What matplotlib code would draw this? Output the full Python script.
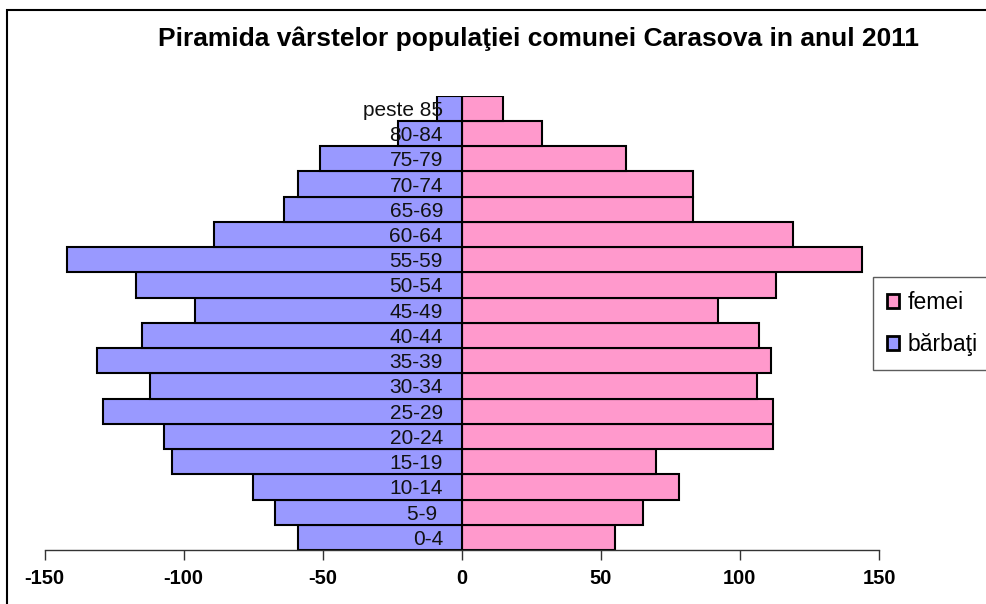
import matplotlib.pyplot as plt
from matplotlib.patches import Rectangle

plt.rcParams['font.family'] = ['Liberation Sans', 'DejaVu Sans']

# date
grupe = ["0-4", "5-9 ", "10-14", "15-19", "20-24", "25-29", "30-34", "35-39",
         "40-44", "45-49", "50-54", "55-59", "60-64", "65-69", "70-74",
         "75-79", "80-84", "peste 85"]
barbati = [59, 67, 75, 104, 107, 129, 112, 131, 115, 96, 117, 142, 89, 64, 59, 51, 23, 9]
femei = [55, 65, 78, 70, 112, 112, 106, 111, 107, 92, 113, 144, 119, 83, 83, 59, 29, 15]
x_ticks = [-150, -100, -50, 0, 50, 100, 150]

culoare_b = '#9999FF'
culoare_f = '#FF99CC'

fig = plt.figure(figsize=(9.86, 6.04), dpi=100)
ax = fig.add_axes([44.5 / 986, 1 - 550 / 604, (879 - 44.5) / 986, (550 - 95.7) / 604])

poz = list(range(len(grupe)))
ax.barh(poz, femei, height=1.0, color=culoare_f, edgecolor='black', linewidth=1.5, label='femei')
ax.barh(poz, [-v for v in barbati], height=1.0, color=culoare_b, edgecolor='black',
        linewidth=1.5, label='bărbaţi')

ax.set_xlim(-150, 150)
ax.set_ylim(-0.5, len(grupe) - 0.5)
ax.set_xticks(x_ticks)
ax.set_xticklabels([str(t) for t in x_ticks], fontsize=14.5, fontweight='bold')
ax.tick_params(axis='x', length=7, width=1, color='#333333', pad=7)

# etichetele grupelor langa axa 0
ax.spines['left'].set_position(('data', 0))
ax.spines['left'].set_visible(False)
ax.set_yticks(poz)
ax.set_yticklabels(grupe, fontsize=15, color='#111111')
ax.tick_params(axis='y', length=0, pad=13.5)

for s in ['top', 'right']:
    ax.spines[s].set_visible(False)
ax.spines['bottom'].set_color('#333333')
ax.spines['bottom'].set_linewidth(1)

fig.text(538 / 986, 1 - 39 / 604, 'Piramida vârstelor populaţiei comunei Carasova in anul 2011',
         ha='center', va='center', fontsize=19, fontweight='bold')

leg = fig.legend(loc='upper left', bbox_to_anchor=(873 / 986, 1 - 277 / 604), fontsize=16.5,
                 frameon=True, fancybox=False, edgecolor='#333333', handlelength=0.55,
                 handleheight=0.55, handletextpad=0.35, labelspacing=0.85, borderpad=0.6,
                 borderaxespad=0)
leg.get_frame().set_linewidth(1)
for h in leg.legend_handles:
    h.set_linewidth(2)

# chenarul graficului
fig.patches.append(Rectangle((7 / 986, -0.05), 1.0, 1 - 10 / 604 + 0.05, transform=fig.transFigure,
                             fill=False, edgecolor='black', linewidth=1.5))

fig.savefig('out.png', dpi=100)
